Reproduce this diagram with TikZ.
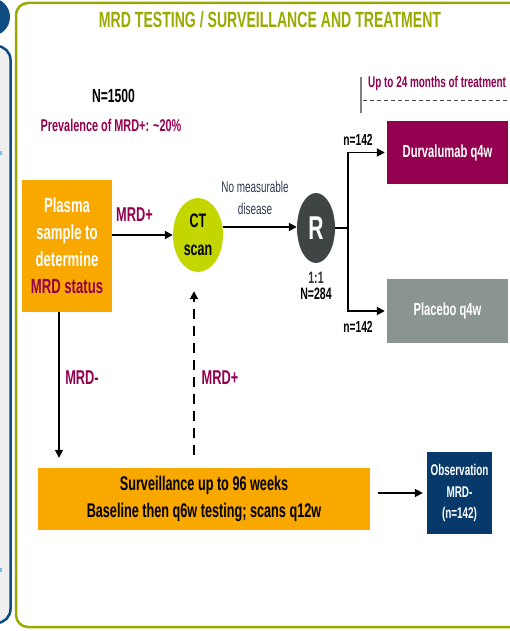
\documentclass[tikz,border=0pt]{standalone}
\usepackage{fontspec}
\setmainfont{Liberation Sans}[FakeStretch=0.64]
\usetikzlibrary{arrows.meta,shapes.geometric}

\definecolor{olivegreen}{HTML}{9BAA00}
\definecolor{mrdpurple}{HTML}{93004F}
\definecolor{plasmaorange}{HTML}{F9A800}
\definecolor{ctlime}{HTML}{C4D600}
\definecolor{randgray}{HTML}{3F4444}
\definecolor{placebogray}{HTML}{8A9490}
\definecolor{obsnavy}{HTML}{073A6B}
\definecolor{panelnavy}{HTML}{0F4C81}
\definecolor{panelfill}{HTML}{EFEFEF}
\definecolor{tickblue}{HTML}{6EC1E4}
\definecolor{notegray}{HTML}{2E3A4F}

\tikzset{
  bfs/.style={font=\bfseries\fontsize{#1}{#1}\selectfont},
  stage/.style={draw=none, inner sep=0pt, align=center},
  arr/.style={draw=black, line width=1.8pt, -{Triangle[length=8pt,width=8pt]}},
  flow/.style={draw=black, line width=1.8pt},
  purplelbl/.style={text=mrdpurple, inner sep=0pt},
}

\begin{document}
\begin{tikzpicture}[x=1pt,y=-1pt]
\useasboundingbox (0,0) rectangle (510,631);
\clip (0,0) rectangle (510,631);
\fill[white] (0,0) rectangle (510,631);

% neighbouring panel on the left
\draw[panelnavy, fill=panelfill, line width=2.5pt, rounded corners=14pt]
  (-60,46) rectangle (10.5,623);
\fill[panelnavy] (-9,17) circle [radius=19pt];
\fill[tickblue] (0,151) rectangle (1.5,155);
\fill[tickblue] (0,568) rectangle (1.5,572);

% main frame
\draw[olivegreen, line width=2.5pt, rounded corners=12pt]
  (16,3) rectangle (580,627);
\node[bfs=22, text=olivegreen] (title) at (270,20)
  {MRD TESTING / SURVEILLANCE AND TREATMENT};

% population
\node[bfs=19] (npop) at (113.5,96) {N=1500};
\node[bfs=17, purplelbl] (prev) at (111,125) {Prevalence of MRD+: \textasciitilde20\%};

% treatment period marker
\draw[gray, line width=1.2pt] (361,77) -- (361,113);
\node[bfs=15.5, purplelbl, anchor=west] (period) at (368,83) {Up to 24 months of treatment};
\draw[black!70, line width=0.9pt, dash pattern=on 4pt off 3pt] (363,100) -- (512,100);

% stages
\node[stage, fill=plasmaorange, text=white, minimum width=90pt, minimum height=132pt,
      font=\bfseries\fontsize{20.5}{27}\selectfont] (plasma) at (67,246)
  {Plasma\\sample to\\determine\\\textcolor{mrdpurple}{MRD status}};

\node[ellipse, stage, fill=ctlime, minimum width=50pt, minimum height=74pt,
      font=\bfseries\fontsize{19.5}{28}\selectfont] (ct) at (198,235) {CT\\scan};

\node[ellipse, stage, fill=randgray, text=white, minimum width=38pt, minimum height=70pt,
      bfs=33] (r) at (316,228) {R};

\node[stage, font=\bfseries\fontsize{16.5}{15.5}\selectfont] (ratio) at (316,286)
  {\textcolor{black!80}{1:1}\\N=284};

\node[stage, fill=mrdpurple, text=white, minimum width=121pt, minimum height=63pt,
      bfs=17.5] (durva) at (447.5,152.5) {Durvalumab q4w};
\node[stage, fill=placebogray, text=white, minimum width=121pt, minimum height=64pt,
      bfs=17.5] (placebo) at (447.5,311) {Placebo q4w};

\node[stage, fill=plasmaorange, minimum width=332pt, minimum height=62pt,
      font=\bfseries\fontsize{19.8}{27}\selectfont] (surv) at (204,499)
  {Surveillance up to 96 weeks\\Baseline then q6w testing; scans q12w};

\node[stage, fill=obsnavy, text=white, minimum width=65pt, minimum height=82pt,
      font=\bfseries\fontsize{15.5}{21.5}\selectfont] (obs) at (459.5,493)
  {Observation\\MRD-\\(n=142)};

% connectors
\draw[arr] (plasma.east |- ct.center) -- (ct.west);
\node[bfs=20, purplelbl] (mrdpos) at (134.5,215) {MRD+};

\draw[arr] (ct.18) -- (ct.18 -| r.west);
\node[font=\fontsize{15.5}{22}\selectfont, text=notegray, align=center, inner sep=0pt]
  (nomeas) at (255,198) {No measurable\\disease};

\coordinate (split) at (348,228);
\draw[flow] (r.east) -- (split);
\draw[arr, shorten >=2pt] (split) |- (durva.west);
\draw[arr, shorten >=2pt] (split) |- (placebo.west);
\node[bfs=16] (ntop) at (358,140) {n=142};
\node[bfs=16] (nbot) at (358,327) {n=142};

\coordinate (negtop) at ([xshift=-8pt]plasma.south);
\draw[arr, line width=1.5pt, shorten >=10pt] (negtop) -- (negtop |- surv.north);
\node[bfs=20, purplelbl] (mrdneg) at (82,378) {MRD-};

\coordinate (posend) at ([xshift=-4pt]ct.south);
\draw[arr, dash pattern=on 10pt off 7pt, shorten <=13pt, shorten >=19pt]
  (posend |- surv.north) -- (posend);
\node[bfs=20, purplelbl] (mrdpos2) at (220,378) {MRD+};

\draw[arr, shorten <=8pt, shorten >=4pt] (surv.east |- obs.west) -- (obs.west);

\end{tikzpicture}
\end{document}
